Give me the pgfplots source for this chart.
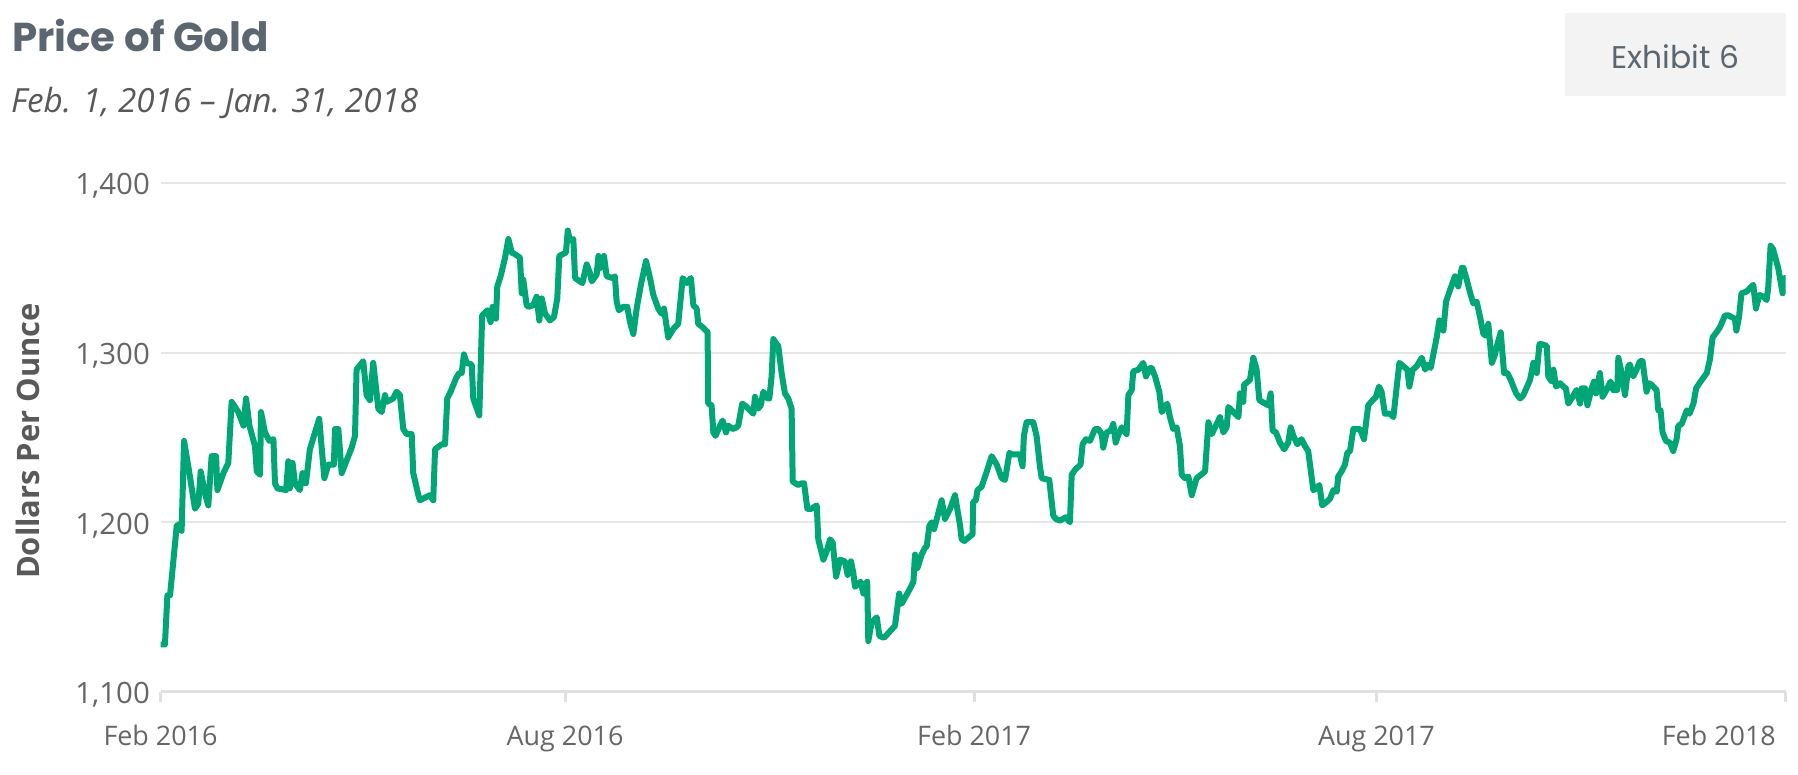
\documentclass[border=0pt]{standalone}
\usepackage{fontspec}
\setmainfont{Open Sans}
\newfontfamily\headfont{Poppins}
\usepackage{pgfplots}
\usepackage{pgfplotstable}
\pgfplotsset{compat=1.18}

\definecolor{goldline}{RGB}{0,166,118}
\definecolor{titlegray}{HTML}{5B6670}
\definecolor{textgray}{HTML}{595959}
\definecolor{tickgray}{HTML}{666666}
\definecolor{gridgray}{HTML}{E6E6E6}
\definecolor{axisgray}{HTML}{E0E0E0}
\definecolor{boxgray}{HTML}{F3F3F3}

% day 0 = Feb 1, 2016; price in dollars per ounce
\pgfplotstableread{
day price
0.5 1128
2 1128
3.1 1157
4.3 1157
7.3 1198
8.8 1199
9.5 1195
10.6 1248
13.0 1229
15.5 1208
17.0 1211
18.1 1230
20.0 1217
21.5 1210
23.0 1239
25.0 1239
25.6 1219
28.3 1229
30.5 1235
32.0 1271
35.0 1265
37.3 1257
38.5 1273
40.0 1257
42.5 1245
43.3 1230
44.8 1228
45.2 1265
47.0 1253
49.0 1248
50.8 1249
51.5 1223
52.6 1220
56.5 1219
57.5 1236
58.2 1220
59.4 1235
60.5 1223
62.7 1219
63.9 1229
65.4 1223
67.2 1243
69.5 1253
71.4 1261
73.7 1226
75.5 1234
78.0 1234
78.5 1255
80.0 1255
81.5 1229
86.0 1244
87.5 1251
88.2 1290
91.2 1295
92.7 1275
94.2 1272
95.7 1294
98.0 1267
99.5 1265
101.0 1275
101.7 1271
104.7 1273
106.2 1277
107.7 1275
109.2 1255
110.7 1252
113.0 1252
113.7 1229
116.0 1216
116.7 1213
121.2 1216
122.7 1213
123.5 1243
126.5 1246
128.0 1246
129.0 1273
130.5 1277
133.0 1285
134.4 1288
135.5 1288
136.5 1299
137.7 1294
140.0 1293
140.7 1273
143.4 1263
144.7 1322
147.0 1325
148.5 1318
149.4 1327
150.9 1320
151.5 1339
153.0 1345
155.0 1356
156.5 1367
158.0 1359
159.5 1358
161.7 1356
162.5 1335
163.2 1343
164.7 1328
165.5 1327
167.7 1328
169.2 1333
170.4 1319
171.5 1332
173.0 1323
175.2 1319
177.0 1321
178.5 1332
179.4 1357
182.4 1359
183.2 1372
184.2 1366
185.7 1367
186.5 1344
188.7 1342
189.8 1341
191.7 1352
193.2 1347
194.0 1342
196.2 1346
197.0 1357
198.0 1350
199.5 1357
200.7 1345
203.4 1344
204.4 1345
205.2 1330
206.2 1325
208.2 1327
210.0 1327
211.2 1318
212.7 1311
214.2 1326
216.1 1340
218.4 1354
220.2 1344
221.7 1334
223.9 1326
225.4 1323
226.5 1326
228.4 1309
230.7 1314
232.9 1317
234.9 1344
236.7 1341
238.6 1344
239.7 1328
241.2 1326
241.9 1317
243.9 1315
246.1 1312
246.4 1270
247.9 1269
248.7 1253
249.7 1251
251.7 1257
252.9 1260
254.4 1253
255.4 1257
257.4 1255
259.2 1256
259.9 1257
261.7 1270
263.7 1268
266.7 1264
267.4 1274
268.9 1267
270.0 1269
271.2 1277
273.0 1273
273.9 1273
274.9 1286
275.7 1308
277.2 1305
277.9 1304
279.4 1288
280.9 1276
282.4 1273
283.9 1267
284.4 1224
286.9 1222
288.4 1223
289.5 1223
291.0 1208
292.9 1208
295.2 1210
295.9 1190
298.2 1178
299.7 1183
301.2 1190
302.4 1188
303.9 1168
305.7 1178
307.9 1177
309.1 1169
310.6 1177
311.7 1170
312.4 1162
315.0 1165
316.2 1158
316.9 1163
317.9 1165
318.4 1130
319.9 1141
322.2 1144
323.4 1133
325.5 1132
330.4 1139
332.3 1158
333.4 1152
337.2 1161
338.7 1165
339.4 1181
340.5 1173
342.4 1181
343.9 1185
344.7 1186
345.9 1198
346.9 1200
348.0 1196
350.0 1206
351.4 1213
352.9 1202
355.2 1208
357.4 1216
359.7 1198
360.4 1190
361.6 1189
365.3 1193
365.6 1212
366.8 1213
367.5 1219
369.4 1221
371.7 1230
373.9 1239
376.2 1234
378.4 1226
379.9 1225
381.9 1241
382.9 1240
386.6 1240
387.8 1233
388.4 1251
389.6 1259
392.6 1259
394.1 1251
395.6 1233
396.4 1226
399.8 1225
401.6 1204
402.8 1202
404.6 1201
407.3 1203
409.1 1200
409.9 1228
411.4 1231
413.9 1234
414.8 1246
416.3 1249
418.1 1248
420.4 1255
421.9 1255
423.4 1252
424.1 1244
425.6 1253
427.4 1254
428.6 1258
429.7 1247
431.3 1253
432.4 1256
434.6 1252
435.4 1275
436.9 1278
437.6 1289
439.9 1290
442.1 1294
443.3 1286
445.1 1291
445.9 1291
447.4 1286
449.3 1277
450.4 1265
451.9 1268
452.9 1270
454.1 1262
455.6 1255
457.1 1256
458.6 1245
459.4 1228
460.9 1226
462.4 1227
463.9 1216
466.1 1226
469.9 1230
471.4 1259
472.9 1252
474.4 1256
476.6 1262
478.1 1253
479.6 1256
480.4 1268
482.6 1265
484.9 1262
485.6 1276
487.1 1271
487.4 1281
490.1 1284
491.6 1297
493.1 1290
494.3 1272
496.9 1270
498.4 1269
499.4 1276
500.3 1254
501.8 1253
503.6 1247
505.5 1243
507.3 1247
508.4 1256
509.6 1251
511.4 1246
513.3 1249
514.8 1245
516.3 1242
517.4 1231
518.6 1219
520.1 1220
521.3 1222
522.6 1210
524.6 1212
526.1 1214
527.6 1219
529.1 1218
529.8 1227
531.3 1230
532.8 1234
533.9 1241
535.1 1242
536.6 1255
539.6 1255
541.4 1249
543.3 1269
545.3 1272
546.8 1274
548.1 1280
549.3 1277
550.8 1264
553.1 1264
554.6 1262
557.3 1294
559.1 1292
560.9 1290
561.8 1280
563.3 1290
565.1 1292
567.4 1297
568.9 1290
570.1 1293
571.4 1291
572.6 1299
574.1 1309
575.3 1319
577.1 1313
578.3 1330
580.1 1337
582.3 1345
583.8 1339
585.4 1350
586.1 1350
587.6 1343
589.4 1334
590.6 1329
592.1 1330
593.6 1321
595.1 1311
596.3 1310
597.3 1317
598.9 1294
600.1 1298
601.4 1305
602.9 1312
604.4 1288
605.9 1288
607.4 1284
609.8 1276
611.6 1273
613.1 1275
616.1 1284
617.6 1294
619.1 1288
620.3 1305
621.3 1305
623.6 1304
624.3 1286
625.8 1283
626.6 1290
627.8 1280
629.6 1282
631.1 1280
632.2 1279
633.3 1270
634.8 1273
637.0 1278
638.6 1270
639.3 1279
640.8 1279
641.9 1269
643.8 1279
644.9 1283
645.8 1276
647.5 1288
648.7 1274
650.5 1278
652.3 1283
653.5 1278
655.3 1278
655.8 1297
657.3 1288
658.8 1275
660.3 1292
661.0 1293
662.5 1286
664.0 1290
665.5 1295
666.7 1295
668.5 1277
669.7 1282
670.8 1281
673.0 1278
673.8 1266
674.8 1266
675.7 1253
677.2 1248
679.0 1247
680.5 1242
682.0 1249
682.8 1257
684.3 1258
686.6 1266
687.8 1264
689.6 1270
690.8 1279
692.3 1282
695.6 1288
697.0 1296
698.2 1309
700.0 1312
701.5 1315
703.8 1322
705.3 1322
708.2 1320
708.9 1313
710.1 1321
711.2 1335
713.5 1336
715.0 1338
716.5 1340
717.7 1326
719.2 1334
721.0 1333
722.5 1331
723.2 1338
724.3 1363
725.4 1361
727.7 1350
729.7 1335
730.6 1344
}\goldtable

\begin{document}
\begin{tikzpicture}
\path[use as bounding box] (0,0) rectangle (1798bp,775bp);

% titles
\node[anchor=base west, inner sep=0, text=titlegray,
  font=\headfont\bfseries\fontsize{40.5}{46}\selectfont] at (12bp,723bp) {Price of Gold};
\node[anchor=base west, inner sep=0, text=textgray,
  font=\itshape\fontsize{33.4}{38}\selectfont] at (11bp,662bp) {Feb. 1, 2016 -- Jan. 31, 2018};

% exhibit box
\fill[boxgray] (1565bp,679bp) rectangle (1786bp,762bp);
\node[anchor=base, inner sep=0, text=titlegray,
  font=\headfont\fontsize{31.5}{36}\selectfont] at (1675.5bp,706.7bp) {Exhibit 6};

% y label
\node[rotate=90, inner sep=0, text=textgray,
  font=\bfseries\fontsize{31}{36}\selectfont] at (28bp,334bp) {Dollars Per Ounce};

\begin{axis}[
  at={(160.5bp,83bp)}, anchor=south west,
  width=1625bp, height=509bp, scale only axis,
  xmin=0, xmax=731, ymin=1100, ymax=1400,
  xtick={0,182,366,547},
  xticklabels={Feb 2016,Aug 2016,Feb 2017,Aug 2017},
  extra x ticks={731},
  extra x tick labels={Feb 2018},
  extra x tick style={xticklabel style={anchor=base east, xshift=-9.5bp}},
  ytick={1100,1200,1300,1400},
  ymajorgrids,
  grid style={gridgray, line width=2bp},
  axis x line*=bottom, axis y line*=left,
  x axis line style={-, draw=axisgray, line width=3bp},
  y axis line style={draw=none},
  xtick style={draw=axisgray, line width=3bp},
  ytick style={draw=none},
  xtick align=outside, ytick align=inside,
  major tick length=10bp,
  tick label style={text=tickgray, font=\fontsize{27}{32}\selectfont, inner sep=0pt},
  xticklabel style={anchor=base, yshift=-43.4bp},
  yticklabel style={anchor=base east, xshift=-10.5bp, yshift=-12bp,
    font=\fontsize{29.5}{34}\selectfont,
    /pgf/number format/.cd, 1000 sep={,}, assume math mode=true},
]
\addplot[goldline, line width=6bp, line join=round, line cap=round]
  table[x=day, y=price] {\goldtable};
\end{axis}
\end{tikzpicture}
\end{document}
